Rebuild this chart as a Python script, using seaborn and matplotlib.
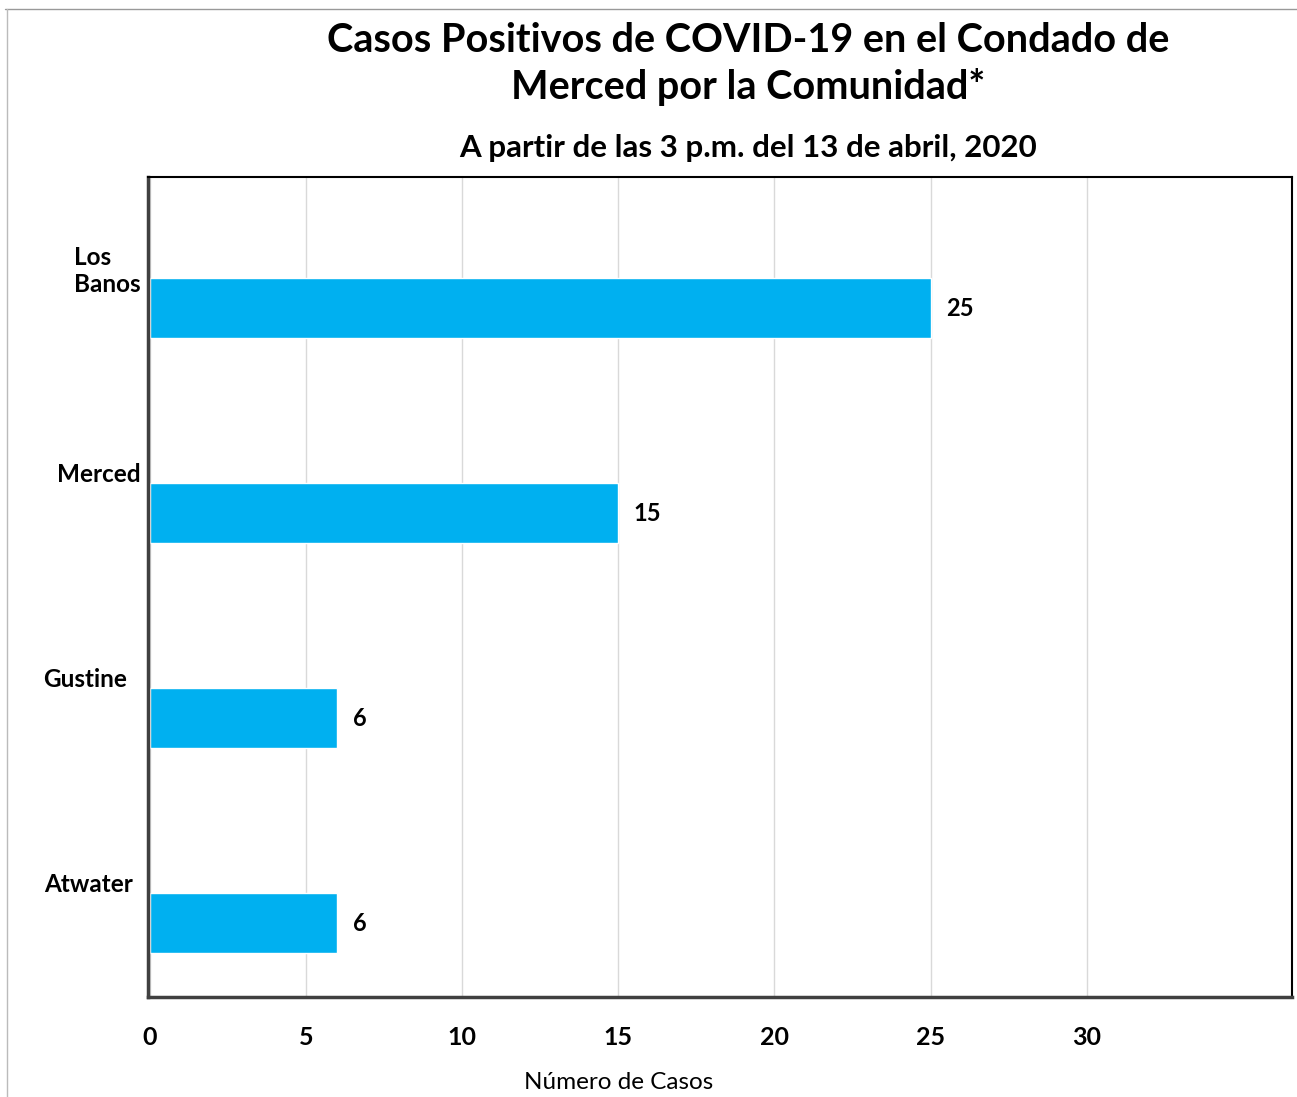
import matplotlib
matplotlib.use("Agg")
import matplotlib.pyplot as plt
import seaborn as sns
import pandas as pd
from matplotlib.lines import Line2D

# data
communities = ["Los Banos", "Merced", "Gustine", "Atwater"]
cases = [25, 15, 6, 6]
tick_values = [0, 5, 10, 15, 20, 25, 30]
title = "Casos Positivos de COVID-19 en el Condado de\nMerced por la Comunidad*"
subtitle = "A partir de las 3 p.m. del 13 de abril, 2020"
xlabel = "Número de Casos"

df = pd.DataFrame({"Comunidad": communities, "Casos": cases})

sns.set_style("white")
plt.rcParams["font.family"] = ["Lato", "DejaVu Sans"]
plt.rcParams["text.color"] = "black"
plt.rcParams["xtick.labelcolor"] = "black"
plt.rcParams["ytick.labelcolor"] = "black"
plt.rcParams["axes.labelcolor"] = "black"

fig = plt.figure(figsize=(12.97, 10.97), dpi=100)
ax = fig.add_axes([148 / 1297, 1 - 997 / 1097, (1292 - 148) / 1297, (997 - 177) / 1097])

sns.barplot(data=df, y="Comunidad", x="Casos", orient="h", color="#00B0F0",
            width=0.29, saturation=1, ax=ax)

ax.set_xlim(-0.06, 36.57)
ax.set_ylim(3.36, -0.64)

# category labels sit above the bars
ax.set_yticks([i - 0.2 for i in range(len(communities))])
ax.set_yticklabels(["Los\nBanos", "Merced", "Gustine", "Atwater"],
                   fontsize=17.5, fontweight="bold", ha="right")
for lab, dx in zip(ax.get_yticklabels(), [0, 0, -14, -8]):
    lab.set_x(dx / 1144)
    lab.set_multialignment("left")
ax.tick_params(axis="y", length=0, pad=5)
ax.set_yticks([-0.64 + k for k in range(5)], minor=True)
ax.tick_params(axis="y", which="minor", length=4, color="#888888", direction="out")

ax.set_xticks(tick_values)
ax.set_xticklabels([str(v) for v in tick_values], fontsize=18, fontweight="bold")
ax.tick_params(axis="x", length=6, color="#888888", pad=15)
ax.grid(axis="x", color="#d9d9d9", linewidth=1)
ax.set_axisbelow(True)

ax.set_xlabel(xlabel, fontsize=17.5)
ax.xaxis.set_label_coords((619 - 148) / 1144, -0.092)
ax.set_ylabel("")

for s in ["top", "right"]:
    ax.spines[s].set_color("black")
    ax.spines[s].set_linewidth(1.5)
for s in ["left", "bottom"]:
    ax.spines[s].set_color("#404040")
    ax.spines[s].set_linewidth(2.5)

for i, v in enumerate(cases):
    ax.text(v + 0.5, i, str(v), va="center", ha="left", fontsize=17, fontweight="bold")

fig.text(748 / 1297, 1 - 64 / 1097, title, ha="center", va="center",
         fontsize=28.5, fontweight="bold", linespacing=1.3)
fig.text(748 / 1297, 1 - 148 / 1097, subtitle, ha="center", va="center",
         fontsize=22.5, fontweight="bold")

# frame of the original screenshot
fig.add_artist(Line2D([5 / 1297, 1], [1 - 9 / 1097] * 2, color="#999999", linewidth=1))
fig.add_artist(Line2D([7 / 1297] * 2, [0, 1 - 9 / 1097], color="#bbbbbb", linewidth=1))

fig.savefig("out.png", dpi=100)
